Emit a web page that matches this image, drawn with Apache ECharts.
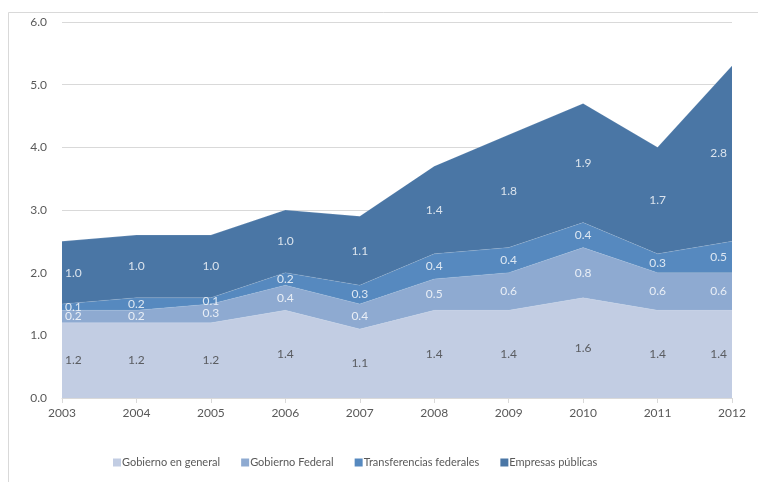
<!DOCTYPE html>
<html>
<head>
<meta charset="utf-8">
<script src="https://cdn.jsdelivr.net/npm/echarts@6/dist/echarts.min.js"></script>
<style>html,body{margin:0;padding:0;background:#fff}#c{width:758px;height:482px}</style>
</head>
<body>
<div id="c"></div>
<script>
const years = ['2003','2004','2005','2006','2007','2008','2009','2010','2011','2012'];
const seriesNames = ['Gobierno en general','Gobierno Federal','Transferencias federales','Empresas públicas'];
const gobiernoGeneral = [1.2,1.2,1.2,1.4,1.1,1.4,1.4,1.6,1.4,1.4];
const gobiernoFederal = [0.2,0.2,0.3,0.4,0.4,0.5,0.6,0.8,0.6,0.6];
const transferencias = [0.1,0.2,0.1,0.2,0.3,0.4,0.4,0.4,0.3,0.5];
const empresas = [1.0,1.0,1.0,1.0,1.1,1.4,1.8,1.9,1.7,2.8];
const yTicks = [0,1,2,3,4,5,6];

const values = [gobiernoGeneral, gobiernoFederal, transferencias, empresas];
const colors = ['#C2CDE3','#8EAAD1','#5689BF','#4A76A5'];
const labelColors = ['#404040','#ffffff','#ffffff','#ffffff'];
const font = 'Lato, "Open Sans", sans-serif';

const series = [];
values.forEach((arr, k) => {
  series.push({
    name: seriesNames[k], type: 'line', stack: 'total', data: arr,
    symbol: 'none', showSymbol: false,
    lineStyle: {width: 0.5, color: 'rgba(255,255,255,0.25)'},
    itemStyle: {color: colors[k]},
    areaStyle: {color: colors[k], opacity: 1},
    emphasis: {disabled: true}, silent: true, z: 2
  });
});
// label series placed at segment middles
values.forEach((arr, k) => {
  const data = arr.map((v, i) => {
    let base = 0;
    for (let j = 0; j < k; j++) base += values[j][i];
    const item = {value: [i, base + v / 2], raw: v};
    if (i === 0) item.label = {align: 'left', offset: [3, 0]};
    if (i === arr.length - 1) item.label = {align: 'right', offset: [-5, 0]};
    return item;
  });
  series.push({
    type: 'scatter', data: data, symbolSize: 0, silent: true, z: 5,
    legendHoverLink: false,
    label: {show: true, position: 'inside', color: labelColors[k], fontSize: 12, fontFamily: font,
      formatter: p => p.data.raw.toFixed(1)},
    tooltip: {show: false}
  });
});

const chart = echarts.init(document.getElementById('c'), null, {renderer: 'canvas'});
chart.setOption({
  animation: false,
  backgroundColor: '#fff',
  graphic: [{type: 'rect', shape: {x: 8.5, y: 12.5, width: 900, height: 600},
    style: {fill: 'none', stroke: '#D9D9D9', lineWidth: 1}, silent: true, z: -1}],
  grid: {left: 62, right: 26, top: 22, bottom: 84},
  legend: {
    data: seriesNames, left: 113, top: 457, padding: 0, itemWidth: 8, itemHeight: 8, itemGap: 21,
    icon: 'rect', selectedMode: false,
    textStyle: {color: '#595959', fontSize: 11, fontFamily: font, padding: [0,0,0,-4]}
  },
  xAxis: {
    type: 'category', data: years, boundaryGap: false,
    axisLine: {lineStyle: {color: '#D9D9D9'}},
    axisTick: {show: true, length: 5, lineStyle: {color: '#D9D9D9'}},
    axisLabel: {color: '#595959', fontSize: 12, fontFamily: font, margin: 9},
    splitLine: {show: false}
  },
  yAxis: {
    type: 'value', min: yTicks[0], max: yTicks[yTicks.length - 1], interval: 1,
    axisLine: {show: false}, axisTick: {show: false},
    axisLabel: {color: '#595959', fontSize: 12, fontFamily: font, margin: 15,
      formatter: v => v.toFixed(1)},
    splitLine: {lineStyle: {color: '#D9D9D9'}}
  },
  series: series
});
</script>
</body>
</html>
